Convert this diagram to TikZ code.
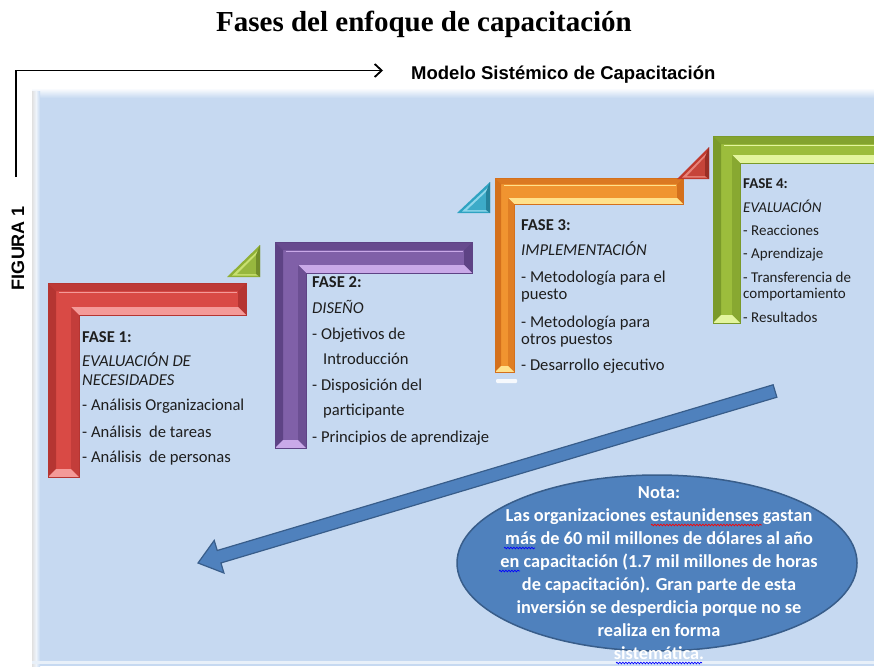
\documentclass[tikz,border=0pt]{standalone}
\usepackage{fontspec}
\setmainfont{Carlito}
\newfontfamily\arialf{Liberation Sans}
\newfontfamily\timesf{Liberation Serif}
\usetikzlibrary{calc,arrows.meta,decorations.pathmorphing}
\definecolor{panel}{HTML}{C6D9F1}
\definecolor{rbase}{HTML}{D94A45}
\definecolor{rlight}{HTML}{F49A98}
\definecolor{rdark}{HTML}{B53532}
\definecolor{pbase}{HTML}{8060A8}
\definecolor{plight}{HTML}{C9A9E8}
\definecolor{pdark}{HTML}{5E4385}
\definecolor{obase}{HTML}{F09430}
\definecolor{olight}{HTML}{FFE18C}
\definecolor{odark}{HTML}{D4701C}
\definecolor{gbase}{HTML}{9CBD3C}
\definecolor{glight}{HTML}{E3F59E}
\definecolor{gdark}{HTML}{7A9A2A}
\definecolor{cbase}{HTML}{2FA3C2}
\definecolor{clight}{HTML}{8FD6EA}
\definecolor{tbase}{HTML}{C0392E}
\definecolor{tlight}{HTML}{E8837A}
\definecolor{tgbase}{HTML}{8FB035}
\definecolor{tglight}{HTML}{C8E070}
\definecolor{nfill}{HTML}{4F81BD}
\definecolor{nline}{HTML}{385D8A}
\definecolor{txt}{HTML}{1E1E1E}
\def\bd{8}
\newcommand\LBevel[9]{%
 \fill[#7] (#1,#2)--(#3,#2)--(#3,#4)--(#5,#4)--(#5,#6)--(#1,#6)--cycle;
 \fill[#9!75!#7] (#1,#2)--(#3,#2)--({#3-\bd},{#2+\bd})--({#1+\bd},{#2+\bd})--cycle;
 \fill[#9] (#1,#2)--({#1+\bd},{#2+\bd})--({#1+\bd},{#6-\bd})--(#1,#6)--cycle;
 \fill[#9] (#3,#2)--(#3,#4)--({#3-\bd},{#4-\bd})--({#3-\bd},{#2+\bd})--cycle;
 \fill[#8] (#5,#4)--(#3,#4)--({#3-\bd},{#4-\bd})--({#5-\bd},{#4-\bd})--cycle;
 \fill[#9!60!#7] ({#5-\bd},{#4-\bd})--(#5,#4)--(#5,#6)--({#5-\bd},{#6-\bd})--cycle;
 \fill[#8] (#1,#6)--(#5,#6)--({#5-\bd},{#6-\bd})--({#1+\bd},{#6-\bd})--cycle;
 \draw[#8, line width=1.6pt] ({#1+\bd+3},{#2+\bd+1.5})--({#3-\bd-1},{#2+\bd+1.5});
 \draw[#9, line width=0.6pt] (#1,#2)--(#3,#2)--(#3,#4)--(#5,#4)--(#5,#6)--(#1,#6)--cycle;
}
\newcommand\TriB[6]{%
 \fill[#5] (#1,#2)--(#3,#4)--(#3,#2)--cycle;
 \fill[#6] ({#1+5},{#2-1.5})--({#3-1.5},{#4+5})--({#3-1.5},{#2-1.5})--cycle;
 \fill[#5!85!#6] ({#1+10},{#2-3})--({#3-4},{#4+10})--({#3-4},{#2-3})--cycle;
 \fill[#5!80!black] (#3,#4)--(#3,#2)--({#3-4},{#2-3})--({#3-4},{#4+10})--cycle;
}
\tikzset{
 ptxt/.style={anchor=base west, inner sep=0pt, text=txt, font=\fontsize{16.6}{18}\selectfont},
 qtxt/.style={anchor=base west, inner sep=0pt, text=txt, font=\fontsize{15}{17}\selectfont},
 ntxt/.style={anchor=base, inner sep=0pt, text=white, font=\fontsize{18.3}{20}\selectfont\bfseries},
 squig/.style={decorate, decoration={snake, segment length=3pt, amplitude=0.8pt}, line width=0.7pt},
}
\begin{document}
\begin{tikzpicture}[x=1pt,y=-1pt]
\useasboundingbox (0,0) rectangle (874,666);
\clip (0,0) rectangle (874,666);
\fill[white] (0,0) rectangle (874,666);
% panel
\fill[panel] (32,88) rectangle (874,666);
\shade[top color=white, bottom color=panel] (32,88) rectangle (874,98);
\shade[left color=black!12, right color=white!70!panel] (32,92) rectangle (36,666);
\shade[left color=white!70!panel, right color=panel] (36,92) rectangle (40,666);
\fill[white!60!panel] (32,661) rectangle (874,664);
% title
\node[anchor=base, inner sep=0pt, font=\timesf\bfseries\fontsize{29}{31}\selectfont] (title) at (424,32) {Fases del enfoque de capacitación};
\node[anchor=base west, inner sep=0pt, font=\arialf\bfseries\fontsize{18.5}{20}\selectfont] (modelo) at (411,80) {Modelo Sistémico de Capacitación};
\node[rotate=90, inner sep=0pt, font=\arialf\bfseries\fontsize{18}{20}\selectfont] (fig) at (18,248) {FIGURA 1};
\coordinate (ba) at (16,177);
\coordinate (bb) at (16,70.5);
\coordinate (bc) at (383,70.5);
\draw[line width=1.8pt, -{Straight Barb[length=7pt,width=13pt,line width=1.8pt]}] (ba) -- (bb) -- (bc);
% L shapes
\LBevel{48}{283}{246}{315}{79}{477}{rbase}{rlight}{rdark}
\LBevel{275}{242}{472}{273}{306}{448}{pbase}{plight}{pdark}
\def\bd{6}
\LBevel{495}{178}{683}{204}{514}{372}{obase}{olight}{odark}
\fill[white!85!panel, rounded corners=1pt] (496,379) rectangle (517,383);
\def\bd{8}
\LBevel{713}{136}{884}{163}{740}{323}{gbase}{glight}{gdark}
% triangles
\TriB{227}{277}{260}{245}{tgbase}{tglight}
\TriB{457}{213}{490}{182}{cbase}{clight}
\TriB{677}{179}{709}{147}{tbase}{tlight}
% phase 1 text
\node[ptxt] (f1a) at (82,342) {\bfseries FASE 1:};
\node[ptxt] (f1b) at (82,366) {\itshape EVALUACIÓN DE};
\node[ptxt] (f1c) at (82,385) {\itshape NECESIDADES};
\node[ptxt] (f1d) at (82,410) {- Análisis Organizacional};
\node[ptxt] (f1e) at (82,437) {- Análisis\ \ de tareas};
\node[ptxt] (f1f) at (82,462) {- Análisis\ \ de personas};
% phase 2 text
\node[ptxt] (f2a) at (312,287) {\bfseries FASE 2:};
\node[ptxt] (f2b) at (312,313) {\itshape DISEÑO};
\node[ptxt] (f2c) at (312,339) {- Objetivos de};
\node[ptxt] (f2d) at (323,364) {Introducción};
\node[ptxt] (f2e) at (312,390) {- Disposición del};
\node[ptxt] (f2f) at (323,415) {participante};
\node[ptxt] (f2g) at (312,442) {- Principios de aprendizaje};
% phase 3 text
\node[ptxt] (f3a) at (521,230) {\bfseries FASE 3:};
\node[ptxt] (f3b) at (521,255) {\itshape IMPLEMENTACIÓN};
\node[ptxt] (f3c) at (521,282) {- Metodología para el};
\node[ptxt] (f3d) at (521,299) {puesto};
\node[ptxt] (f3e) at (521,327) {- Metodología para};
\node[ptxt] (f3f) at (521,344) {otros puestos};
\node[ptxt] (f3g) at (521,370) {- Desarrollo ejecutivo};
% phase 4 text
\node[qtxt] (f4a) at (743,188) {\bfseries FASE 4:};
\node[qtxt] (f4b) at (743,212) {\itshape EVALUACIÓN};
\node[qtxt] (f4c) at (743,235) {- Reacciones};
\node[qtxt] (f4d) at (743,258) {- Aprendizaje};
\node[qtxt] (f4e) at (743,282) {- Transferencia de};
\node[qtxt] (f4f) at (743,298) {comportamiento};
\node[qtxt] (f4g) at (743,322) {- Resultados};
% block arrow
\coordinate (at) at (775,391);
\coordinate (ah) at (198,563);
\coordinate (hb) at ($(ah)!22pt!(at)$);
\filldraw[fill=nfill, draw=nline, line width=1.2pt, line join=miter]
 ($(at)!6.5pt!90:(ah)$) -- ($(hb)!6.5pt!-90:(at)$) -- ($(hb)!17pt!-90:(at)$) -- (ah)
 -- ($(hb)!17pt!90:(at)$) -- ($(hb)!6.5pt!90:(at)$) -- ($(at)!6.5pt!-90:(ah)$) -- cycle;
% note ellipse
\filldraw[fill=nfill, draw=nline, line width=1.5pt] (657,563) ellipse [x radius=200, y radius=88];
\node[ntxt] (n1) at (659,498) {Nota:};
\node[ntxt] (n2) at (659,521) {Las organizaciones estaunidenses gastan};
\node[ntxt] (n3) at (659,544) {más de 60 mil millones de dólares al año};
\node[ntxt] (n4) at (659,567) {en capacitación (1.7 mil millones de horas};
\node[ntxt] (n5) at (659,590) {de capacitación). Gran parte de esta};
\node[ntxt] (n6) at (659,613) {inversión se desperdicia porque no se};
\node[ntxt] (n7) at (659,636) {realiza en forma};
\node[ntxt] (n8) at (659,659) {sistemática.};
\draw[squig, red] (651,525) -- (762,525);
\draw[squig, blue] (504,548) -- (535,548);
\draw[squig, blue] (499,571) -- (520,571);
\draw[squig, blue] (616,663) -- (702,663);
\end{tikzpicture}
\end{document}
